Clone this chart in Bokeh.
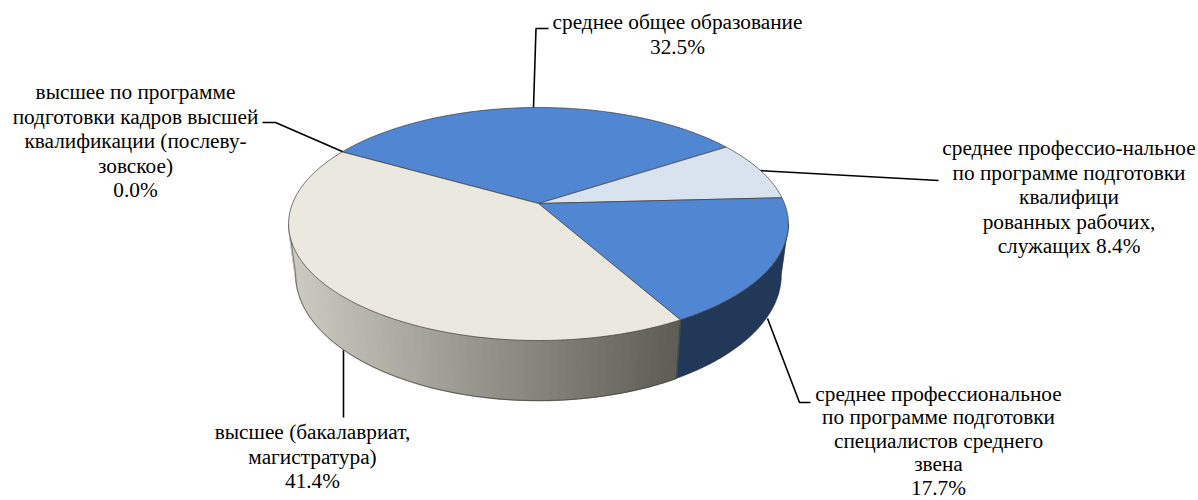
import math
from bokeh.plotting import figure
from bokeh.embed import file_html
from bokeh.resources import INLINE
from bokeh.core.properties import value

# --- data -----------------------------------------------------------------
categories = [
    "среднее общее образование",
    "среднее профессио-нальное по программе подготовки квалифицированных рабочих, служащих",
    "среднее профессиональное по программе подготовки специалистов среднего звена",
    "высшее (бакалавриат, магистратура)",
    "высшее по программе подготовки кадров высшей квалификации (послевузовское)",
]
shares = [32.5, 8.4, 17.7, 41.4, 0.0]
top_colors = ["#5086D2", "#D9E2EF", "#5086D2", "#EBE9DF", "#EBE9DF"]
wall_colors = ["#223858", "#8A93A0", "#223858", None, None]
wall_grad_left = (205, 204, 195)
wall_grad_right = (94, 94, 86)

label_lines = [
    ["среднее общее образование", "32.5%"],
    ["среднее профессио-нальное", "по программе подготовки", "квалифици", "рованных рабочих,", "служащих 8.4%"],
    ["среднее профессиональное", "по программе подготовки", "специалистов среднего", "звена", "17.7%"],
    ["высшее (бакалавриат,", "магистратура)", "41.4%"],
    ["высшее по программе", "подготовки кадров высшей", "квалификации (послеву-", "зовское)", "0.0%"],
]
# --- layout ---------------------------------------------------------------
FONT = "Liberation Serif"
FS = "21.3px"
label_pos = [(677, 21.5), (1068.5, 147.5), (938, 393), (312, 431.5), (135, 91.5)]
label_step = [24.5, 24.5, 23.6, 24.5, 24.5]
leaders = [
    ([533, 535.5, 548], [107, 28, 28]),
    ([758, 938], [170, 180]),
    ([767, 799, 810], [318, 402, 402]),
    ([343, 343], [345, 417]),
    ([344, 275, 262], [152, 122, 122]),
]
START_DEG = 150.2
K = 0.176
TOP = dict(cy=203.0, R=246.0, H=112.9)
BOT = dict(cy=252.0, R=239.0, H=122.0)
CX = 538.0


def project(deg, plane):
    t = math.radians(deg)
    u, v = math.cos(t), math.sin(t)
    d = 1 + K * v
    return CX + plane["R"] * u / d, plane["cy"] - plane["H"] * v / d


def arange(a, b, step=1.0):
    """Degrees from a to b including both ends."""
    n = max(1, int(abs(b - a) / step))
    return [a + (b - a) * i / n for i in range(n + 1)]


p = figure(width=1198, height=500, x_range=(0, 1198), y_range=(500, 0),
           output_backend="svg", toolbar_location=None, min_border=0,
           outline_line_color=None, background_fill_color="white")
p.axis.visible = False
p.grid.visible = False

# leader lines first: the pie hides their inner ends
for xs, ys in leaders:
    p.line(xs, ys, line_color="black", line_width=1.6)

# slice boundaries in degrees, clockwise
bounds = [START_DEG]
for s in shares:
    bounds.append(bounds[-1] - s * 3.6)

# walls: visible on the front half, between the outline's tangent points
for i, s in enumerate(shares):
    a, b = bounds[i], bounds[i + 1]
    for shift in (0, -360):
        h, l = min(a + shift, -10.0), max(b + shift, -170.0)
        if h <= l:
            continue
        if wall_colors[i]:
            ts = arange(h, l)
            tx = [project(t, TOP) for t in ts]
            bx = [project(t, BOT) for t in reversed(ts)]
            pts = tx + bx
            p.patch([q[0] for q in pts], [q[1] for q in pts], fill_color=wall_colors[i],
                    line_color="#1c2c45", line_width=0.7)
        else:
            ts = arange(h, l, 1.6)
            xl, xr = 288.0, 680.0
            for t0, t1 in zip(ts[:-1], ts[1:]):
                q = [project(t0, TOP), project(t1, TOP), project(t1, BOT), project(t0, BOT)]
                f = min(1, max(0, (q[0][0] - xl) / (xr - xl)))
                c = tuple(int(wall_grad_left[j] + (wall_grad_right[j] - wall_grad_left[j]) * f) for j in range(3))
                col = "#%02x%02x%02x" % c
                p.patch([r[0] for r in q], [r[1] for r in q], fill_color=col, line_color=col, line_width=1.4)
            ts2 = arange(h, l)
            p.line([project(t, BOT)[0] for t in ts2], [project(t, BOT)[1] for t in ts2],
                   line_color="#4a4a44", line_width=0.8)
            a0 = project(l, TOP); a1 = project(l, BOT)
            p.line([a0[0], a1[0]], [a0[1], a1[1]], line_color="#55554f", line_width=0.7)
            a0 = project(h, TOP); a1 = project(h, BOT)
            p.line([a0[0], a1[0]], [a0[1], a1[1]], line_color="#3a3a36", line_width=0.8)

# top face
apex = project(0, dict(TOP, R=0, H=0))
for i, s in enumerate(shares):
    if s <= 0:
        continue
    ts = arange(bounds[i], bounds[i + 1])
    pts = [apex] + [project(t, TOP) for t in ts]
    p.patch([q[0] for q in pts], [q[1] for q in pts], fill_color=top_colors[i],
            line_color="#3d3d3d", line_width=0.7, line_join="round")

# labels
for lines, (x, y), step in zip(label_lines, label_pos, label_step):
    p.text([x] * len(lines), [y + j * step for j in range(len(lines))], text=lines,
           text_font=value(FONT), text_font_size=FS, text_color="black",
           text_align="center", text_baseline="middle")

open("out.html", "w").write(file_html(p, INLINE))
